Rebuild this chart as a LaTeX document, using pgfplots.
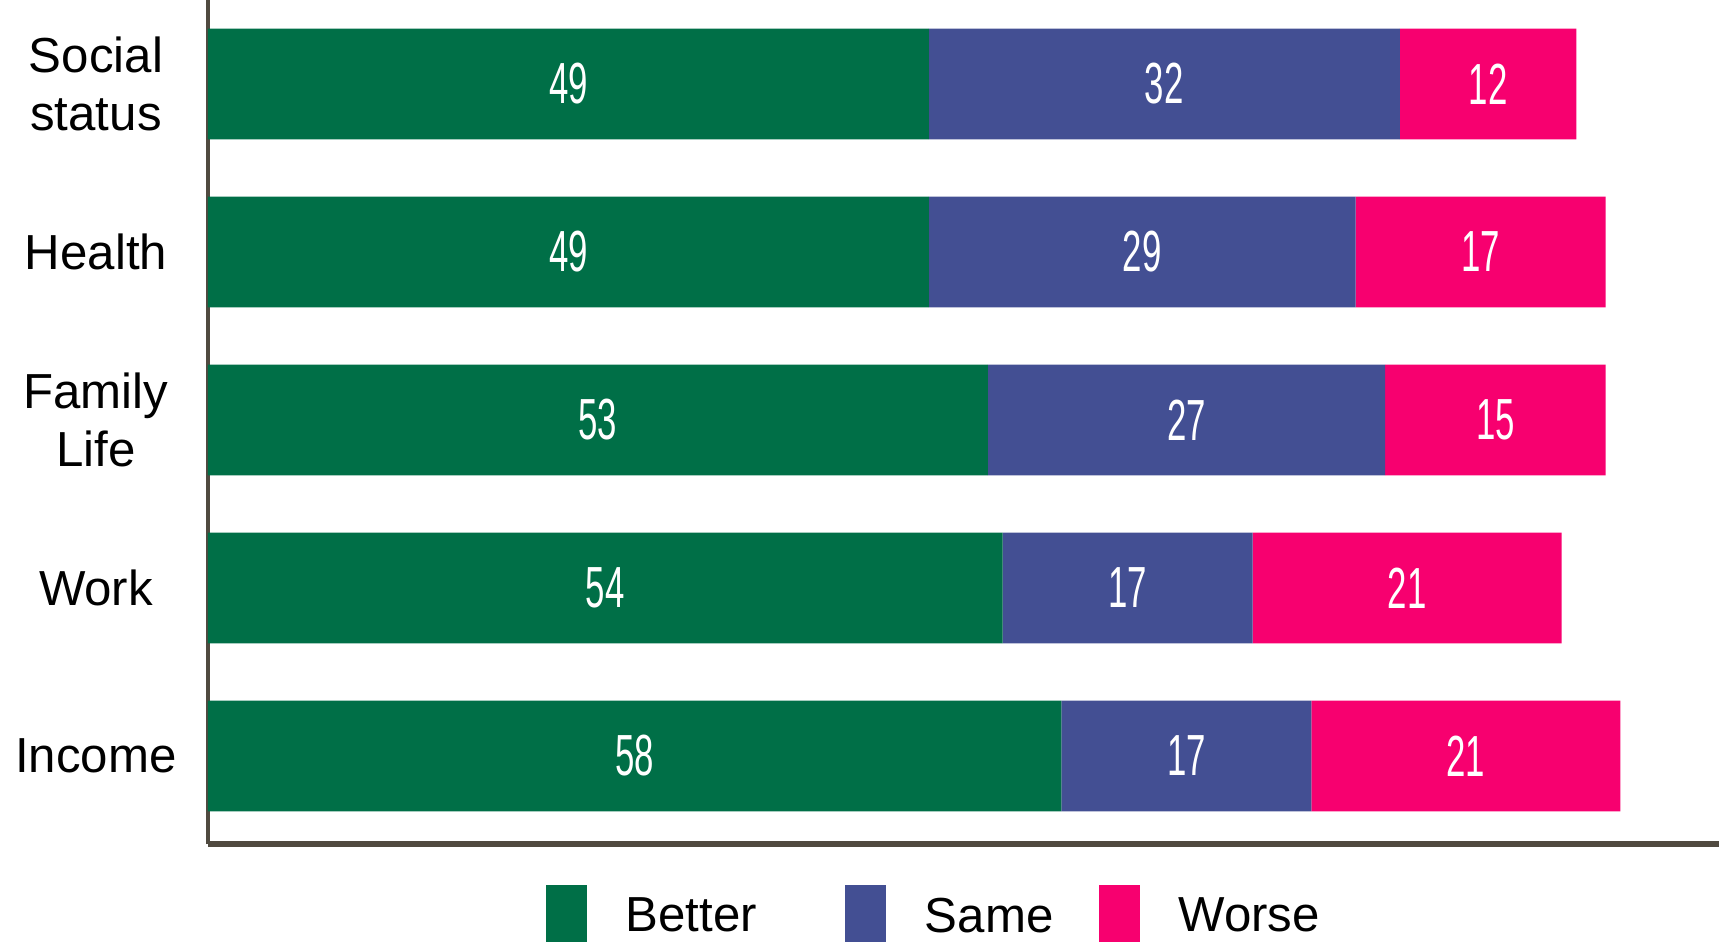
\documentclass[border=0pt]{standalone}
\usepackage{fontspec}
\setmainfont{Liberation Sans}
\usepackage{pgfplots}
\pgfplotsset{compat=1.18}
\usepackage{graphicx}
\definecolor{better}{HTML}{006F47}
\definecolor{same}{HTML}{434F93}
\definecolor{worse}{HTML}{F7006F}
\definecolor{axisgray}{HTML}{504A40}
\begin{document}
\begin{tikzpicture}
\begin{axis}[
  xbar stacked,
  scale only axis,
  width=151.1mm, height=84.4mm,
  xmin=0, xmax=102.7,
  ymin=-0.524, ymax=4.5,
  bar width=0.66,
  axis lines*=left,
  x axis line style={axisgray, line width=1.5pt},
  y axis line style={axisgray, line width=0.9pt},
  xtick=\empty,
  ytick={0,1,2,3,4},
  yticklabels={Income, Work, {Family\\Life}, Health, {Social\\status}},
  major tick length=0pt,
  yticklabel style={font=\fontsize{14}{16.5}\selectfont, align=center, anchor=center, xshift=-11.2mm},
  point meta=explicit symbolic,
  nodes near coords={\scalebox{0.6}[1]{\pgfplotspointmeta}},
  nodes near coords style={font=\fontsize{16.5}{17}\selectfont, text=white, anchor=center},
  legend columns=-1,
  legend style={draw=none, fill=none, at={(0.216,-0.040)}, anchor=north west,
    font=\fontsize{14}{16}\selectfont,
    /tikz/every odd column/.append style={column sep=3.2mm},
    /tikz/column 2/.style={column sep=8.1mm},
    /tikz/column 4/.style={column sep=3.8mm}},
  legend image code/.code={\fill[#1] (0mm,-4.4mm) rectangle (4.1mm,3.2mm);},
]
\addplot[fill=better, draw=none] coordinates {(58,0) [58] (54,1) [54] (53,2) [53] (49,3) [49] (49,4) [49]};
\addplot[fill=same, draw=none] coordinates {(17,0) [17] (17,1) [17] (27,2) [27] (29,3) [29] (32,4) [32]};
\addplot[fill=worse, draw=none] coordinates {(21,0) [21] (21,1) [21] (15,2) [15] (17,3) [17] (12,4) [12]};
\legend{Better, Same, Worse}
\coordinate (tl) at (rel axis cs:0,1);
\coordinate (br) at (rel axis cs:1,0);
\end{axis}
\pgfresetboundingbox
\path[use as bounding box] ([xshift=-20.8mm]tl) rectangle ([yshift=-9.7mm]br);
\end{tikzpicture}
\end{document}
